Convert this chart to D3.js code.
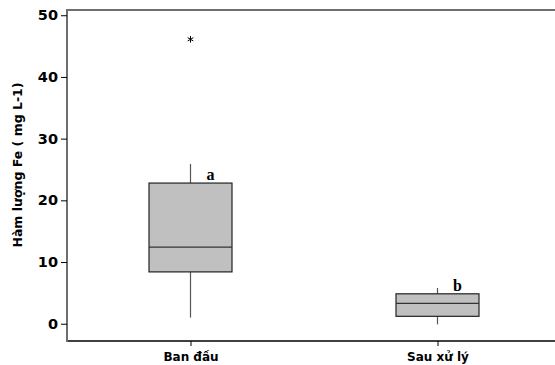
<!DOCTYPE html>
<html lang="vi">
<head>
<meta charset="UTF-8">
<title>Fe boxplot</title>
<script src="https://d3js.org/d3.v7.min.js"></script>
<style>
  body { margin: 0; background: #fff; }
  svg text { font-family: "DejaVu Sans", Verdana, sans-serif; font-weight: 700; }
</style>
</head>
<body>
<svg width="555" height="365"></svg>
<script>
    // groups and their box statistics
    const groups = ["Ban đầu", "Sau xử lý"];
    const whiskerLow = [1.0, -0.1];
    const q1 = [8.4, 1.2];
    const median = [12.4, 3.3];
    const q3 = [22.8, 4.85];
    const whiskerHigh = [25.9, 5.8];
    const outliers = [[46.1], []];
    const letters = ["a", "b"];
    const yTicks = [0, 10, 20, 30, 40, 50];

    const svg = d3.select("svg");
    const plotLeft = 67, plotRight = 555, plotTop = 10, plotBottom = 341;

    let y = d3.scaleLinear().domain([-2.8, 50.85]).range([plotBottom, plotTop]);
    let x = d3.scalePoint().domain(groups).range([190.5, 437.5]);
    const halfBox = 41.5;

    // frame lines
    svg.append("line").attr("x1", plotLeft).attr("x2", plotRight).attr("y1", plotTop).attr("y2", plotTop)
        .attr("stroke", "#6e6e6e").attr("stroke-width", 2);
    svg.append("line").attr("x1", plotLeft).attr("x2", plotRight).attr("y1", plotBottom).attr("y2", plotBottom)
        .attr("stroke", "#000").attr("stroke-width", 1.5);

    // y axis
    let yAxis = svg.append("g").attr("transform", `translate(${plotLeft},0)`)
        .call(d3.axisLeft(y).tickValues(yTicks).tickSize(6).tickPadding(3));
    yAxis.attr("font-family", null).attr("font-size", null);
    yAxis.select(".domain").attr("d", `M0,${plotTop - 1}V${plotBottom + 1}`)
        .attr("stroke", "#6e6e6e").attr("stroke-width", 2);
    yAxis.selectAll(".tick line").attr("stroke", "#000");
    yAxis.selectAll(".tick text").attr("fill", "#000")
        .style("font-size", "14.5px").style("font-weight", "700");

    // x axis ticks + labels
    let xAxis = svg.append("g").attr("transform", `translate(0,${plotBottom})`)
        .call(d3.axisBottom(x).tickSize(5).tickPadding(6));
    xAxis.attr("font-family", null).attr("font-size", null);
    xAxis.select(".domain").remove();
    xAxis.selectAll(".tick line").attr("stroke", "#000");
    xAxis.selectAll(".tick text").attr("fill", "#000")
        .style("font-size", "12px").style("font-weight", "700");

    // y axis title
    svg.append("text")
        .attr("transform", "translate(22,165) rotate(-90)")
        .attr("text-anchor", "middle")
        .style("font-size", "12.5px")
        .text("Hàm lượng Fe ( mg L-1)");

    // boxes
    let box = svg.append("g").selectAll("g").data(groups).enter().append("g");

    box.append("line")
        .attr("x1", d => x(d)).attr("x2", d => x(d))
        .attr("y1", (d, i) => y(whiskerHigh[i])).attr("y2", (d, i) => y(q3[i]))
        .attr("stroke", "#555").attr("stroke-width", 1.2);
    box.append("line")
        .attr("x1", d => x(d)).attr("x2", d => x(d))
        .attr("y1", (d, i) => y(q1[i])).attr("y2", (d, i) => y(whiskerLow[i]))
        .attr("stroke", "#555").attr("stroke-width", 1.2);
    box.append("rect")
        .attr("x", d => x(d) - halfBox).attr("width", halfBox * 2)
        .attr("y", (d, i) => y(q3[i])).attr("height", (d, i) => y(q1[i]) - y(q3[i]))
        .attr("fill", "#c0c0c0").attr("stroke", "#222").attr("stroke-width", 1.2);
    box.append("line")
        .attr("x1", d => x(d) - halfBox).attr("x2", d => x(d) + halfBox)
        .attr("y1", (d, i) => y(median[i])).attr("y2", (d, i) => y(median[i]))
        .attr("stroke", "#333").attr("stroke-width", 1.2);

    // outliers as asterisks
    groups.forEach(function (g, i) {
        outliers[i].forEach(function (v) {
            svg.append("path")
                .attr("d", d3.symbol().type(d3.symbolAsterisk).size(30)())
                .attr("transform", `translate(${x(g)},${y(v)})`)
                .attr("stroke", "#000").attr("stroke-width", 1);
        });
    });

    // significance letters
    box.append("text")
        .attr("x", d => x(d) + 20)
        .attr("y", (d, i) => y(q3[i]) - 3)
        .attr("text-anchor", "middle")
        .style("font-size", "16px")
        .style("font-family", "'Liberation Serif', 'Times New Roman', serif")
        .text((d, i) => letters[i]);
</script>
</body>
</html>
